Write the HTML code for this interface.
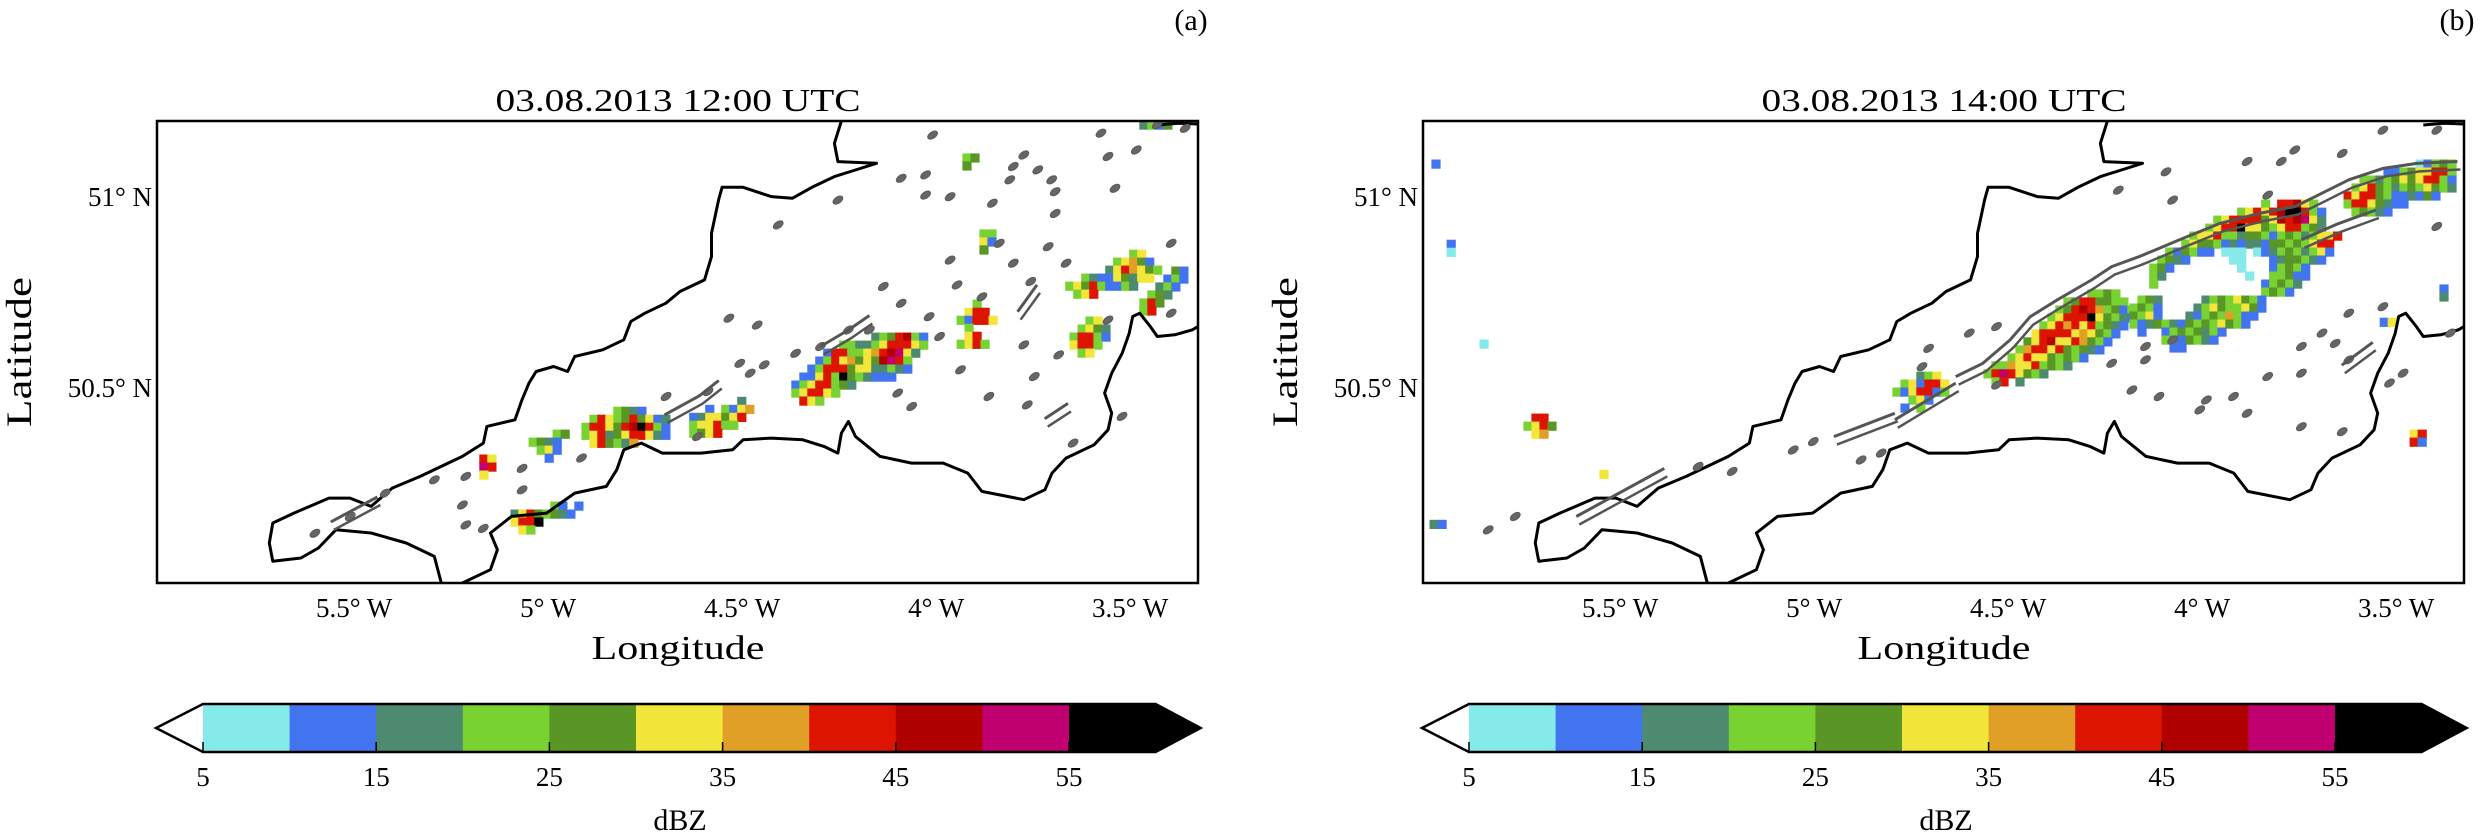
<!DOCTYPE html>
<html><head><meta charset="utf-8"><title>Radar reflectivity maps</title>
<style>
html,body{margin:0;padding:0;background:#fff;}
svg{display:block;font-family:"Liberation Serif",serif;}
</style></head>
<body>
<svg id="fig" width="2480" height="833" viewBox="0 0 2480 833" xmlns="http://www.w3.org/2000/svg">
<rect x="0" y="0" width="2480" height="833" fill="#fff"/>
</svg>
<script>
// ---------- data ----------
const lonTicks = [-5.5, -5.0, -4.5, -4.0, -3.5];
const lonTickLabels = ["5.5° W", "5° W", "4.5° W", "4° W", "3.5° W"];
const latTicks = [51.0, 50.5];
const latTickLabels = ["51° N", "50.5° N"];
const panelTitles = ["03.08.2013 12:00 UTC", "03.08.2013 14:00 UTC"];
const panelLetters = ["(a)", "(b)"];
const cbLevels = [5, 10, 15, 20, 25, 30, 35, 40, 45, 50, 55];
const cbColors = ["#86eaea", "#4274f0", "#4e8a6f", "#78d232", "#5a9626", "#f2e63a", "#e0a028", "#dc1400", "#b10000", "#c00070", "#000000"];
const cbTickValues = [5, 15, 25, 35, 45, 55];
const levelCodes = {c:0, b:1, t:2, g:3, G:4, y:5, o:6, r:7, R:8, m:9, k:10};

// radar clusters panel (a): anchor lon/lat + grid of dBZ class codes
const radarA = [
 {lon:-4.372, lat:50.644, rows:["..........tgGrRgb.","......ggttgyrrryg.","....brrggyorRmyt..","...bgryoGyGRmrg...","..bgrrrGyyttgtb...",".bbyrgkGgtbbb.....","bgyrrgGt..........","gyrryg............",".ryg.............."]},
 {lon:-4.913, lat:50.450, rows:["....gGtb....",".grygGrGybt.","grryGrRkrgb.","gyrtGyrrytb.",".yrGgto....."]},
 {lon:-4.635, lat:50.476, rows:["......t.","..b.gbyo","btyyGyr.","gyyrgg..","gGyr...."]},
 {lon:-5.049, lat:50.390, rows:["...gG","gGtb.",".gyb.","..b.."]},
 {lon:-5.176, lat:50.325, rows:["ry","mr","y."]},
 {lon:-5.096, lat:50.202, rows:[".....gb.b","tyrGgGtb.","yrrk.....",".yg......"]},
 {lon:-3.666, lat:50.861, rows:["........gy...","......gyoGb..",".....tyroyGg.","..gtbbyGtyy..","gyGrgbbgt....",".gyr........."]},
 {lon:-3.475, lat:50.817, rows:["....Gb","...bgb","..tgb.",".gGt..","grG...","gr...."]},
 {lon:-3.655, lat:50.686, rows:["..gy..",".gyGt.","grrgb.","yrrg..",".gy..."]},
 {lon:-3.946, lat:50.730, rows:["..g..",".yrr.","gbrry",".g...",".yr..","gyrg."]},
 {lon:-3.887, lat:50.914, rows:["gg","yb","G."]},
 {lon:-3.931, lat:51.113, rows:["gG","G."]},
 {lon:-3.475, lat:51.199, rows:["tgbG...."]}
];
// radar clusters panel (b)
const radarB = [
 {lon:-4.583, lat:50.757, rows:["..............ggGg..","...........gGrrGGgg.","..........gGrRrogGbg",".........gyrrrkyGgtb","........gyroryrgGtb.",".......yrrrryoyGgb..","......GyrRyyroGgb...",".....gorryrGgGtb....","....gyryyGgGgb......","..ggoyyrgGgt........",".grmryGgt...........","..gr.t.............."]},
 {lon:-4.135, lat:50.992, rows:["..............g.rrRyg.....","...........gyryrRkkrgb....","........gyrrrrGyRrRmyt....",".......gyrrkyyGgyrrgGt....",".....gyyrggtGGgbgGgtgyyr..","....gyGGgbtbttbGGgGgyrr...","..gbGgbb.ccc.cbtgGgtgyb...",".gGtb.....cc...btGGgtb....","gGb........c...bgGgb......","gt..........c..ggGbb......","g.............bgGgt.......","..............gGgb........"]},
 {lon:-4.186, lat:50.741, rows:[".gGt.....tgGgyGgb...","gGgb....tgyGggyGb...","Ggyb...tbgGgogbb....","gbtGgtbGgGgyGgb.....",".b..bgGgGtgb........","....gtbGgtb.........",".....bb............."]},
 {lon:-3.655, lat:51.097, rows:["..........cbgGg","......bbgGyyrrg","...ggtgGyGyrrgb","..gyrGgtgGgyGgt",".ryrrGgbbtbGb..",".grryGtbb......","..gGgtb........"]},
 {lon:-4.797, lat:50.542, rows:["...tgy..",".gybrry.","gbyrrbg.","..gyb...",".b.g...."]},
 {lon:-5.748, lat:50.432, rows:[".rr.","gyrG",".yo."]},
 {lon:-5.985, lat:51.097, rows:["b"]},
 {lon:-5.946, lat:50.887, rows:["b","c"]},
 {lon:-5.861, lat:50.626, rows:["c"]},
 {lon:-5.990, lat:50.154, rows:["tb"]},
 {lon:-5.552, lat:50.285, rows:["y"]},
 {lon:-3.541, lat:50.683, rows:["by"]},
 {lon:-3.387, lat:50.770, rows:["b","t"]},
 {lon:-3.464, lat:50.390, rows:["yr","rb"]}
];
// model contour blobs (lon, lat)
const contourDotsA = [[-4.009,51.162],[-3.774,51.110],[-3.575,51.167],[-3.557,51.106],[-3.484,51.123],[-4.027,51.058],[-4.090,51.049],[-3.801,51.080],[-3.738,51.071],[-3.810,51.045],[-3.702,51.045],[-4.027,51.005],[-3.964,51.001],[-3.855,50.984],[-3.693,51.014],[-3.539,51.023],[-3.693,50.957],[-3.837,50.879],[-3.711,50.870],[-3.394,50.879],[-3.964,50.835],[-3.801,50.827],[-3.665,50.827],[-3.756,50.779],[-3.946,50.770],[-4.136,50.766],[-4.090,50.722],[-3.882,50.739],[-4.018,50.687],[-4.226,50.652],[-4.172,50.652],[-4.298,50.609],[-4.362,50.591],[-4.443,50.561],[-4.506,50.565],[-4.479,50.539],[-4.588,50.491],[-4.696,50.478],[-4.615,50.373],[-4.914,50.317],[-5.067,50.290],[-5.212,50.269],[-5.293,50.260],[-5.420,50.225],[-5.510,50.164],[-5.601,50.120],[-5.067,50.234],[-5.221,50.194],[-5.212,50.142],[-5.167,50.133],[-3.774,50.613],[-3.684,50.587],[-3.864,50.478],[-3.747,50.530],[-3.765,50.456],[-3.647,50.356],[-3.521,50.426],[-4.099,50.487],[-3.937,50.548],[-3.991,50.635],[-3.394,50.696],[-3.557,50.678],[-4.063,50.452],[-4.534,50.683],[-4.461,50.665],[-4.407,50.927],[-4.253,50.992],[-3.430,51.189],[-3.358,51.180]];
const contourLinesA = [
 [[-4.298,50.609],[-4.226,50.652],[-4.172,50.690]],
 [[-3.790,50.700],[-3.740,50.770]],
 [[-3.720,50.420],[-3.660,50.460]],
 [[-4.700,50.430],[-4.610,50.480],[-4.560,50.520]],
 [[-5.560,50.150],[-5.440,50.215]]
];
const contourDotsB = [[-3.639,51.114],[-3.534,51.175],[-3.395,51.175],[-3.796,51.093],[-3.761,51.123],[-3.884,51.093],[-4.093,51.066],[-4.216,51.018],[-4.076,50.992],[-3.831,51.005],[-3.395,50.923],[-3.622,50.696],[-3.534,50.713],[-3.691,50.644],[-3.744,50.609],[-3.657,50.617],[-3.622,50.574],[-3.831,50.530],[-3.744,50.539],[-3.989,50.469],[-3.919,50.478],[-4.006,50.443],[-3.884,50.434],[-4.181,50.495],[-4.111,50.478],[-4.146,50.574],[-4.233,50.565],[-4.076,50.626],[-4.146,50.609],[-4.530,50.661],[-4.600,50.644],[-4.705,50.604],[-4.722,50.556],[-4.530,50.508],[-5.054,50.338],[-5.002,50.360],[-5.211,50.282],[-5.299,50.295],[-5.840,50.129],[-5.770,50.164],[-4.827,50.330],[-4.879,50.312],[-3.744,50.399],[-3.639,50.386],[-3.517,50.513],[-3.482,50.539],[-3.360,50.644]];
const contourLinesB = [
 [[-4.635,50.530],[-4.565,50.565],[-4.495,50.626],[-4.443,50.687],[-4.373,50.731],[-4.285,50.783],[-4.233,50.818],[-4.163,50.844],[-4.058,50.888],[-3.954,50.931],[-3.849,50.958],[-3.761,50.975],[-3.709,51.001],[-3.622,51.045],[-3.534,51.075],[-3.447,51.088],[-3.342,51.093]],
 [[-4.792,50.417],[-4.635,50.513]],
 [[-4.949,50.373],[-4.792,50.434]],
 [[-5.613,50.164],[-5.386,50.290]],
 [[-3.744,50.888],[-3.650,50.930],[-3.552,50.966]],
 [[-3.640,50.560],[-3.560,50.620]]
];
// basemap coastline (frame-relative reference units)
const coastNorth = [[1000,63],[990,130],[995,185],[1050,190],[1020,210],[990,230],[960,260],[930,295],[900,290],[860,262],[830,262],[825,300],[815,400],[815,470],[805,540],[770,575],[750,610],[720,640],[700,665],[690,720],[660,750],[620,770],[610,815],[590,800],[565,815],[555,850],[545,900],[535,960],[495,980],[490,1030],[460,1070],[430,1100],[400,1130],[360,1165],[330,1220],[300,1195],[270,1195],[220,1240],[190,1270],[185,1330],[190,1385],[230,1375],[255,1345],[280,1290],[330,1300],[380,1330],[420,1370],[430,1450]];
const coastSouth = [[460,1450],[500,1410],[510,1350],[500,1300],[530,1250],[580,1240],[620,1180],[665,1160],[680,1110],[690,1050],[715,1030],[745,1060],[800,1060],[845,1050],[860,1020],[900,1015],[945,1020],[975,1040],[995,1060],[1000,1000],[1010,965],[1020,1010],[1055,1070],[1100,1090],[1145,1090],[1180,1120],[1200,1175],[1260,1200],[1290,1170],[1300,1120],[1320,1075],[1360,1035],[1380,990],[1385,940],[1375,880],[1385,820],[1400,760],[1410,700],[1415,650],[1425,640],[1440,680],[1450,710],[1475,705],[1500,690],[1508,680]];
const coastTopRight = [[1450,75],[1480,70],[1508,72]];

// ---------- drawing ----------
const NS = "http://www.w3.org/2000/svg";
const svg = document.getElementById("fig");
const LON0 = -6.008, LON1 = -3.325, LAT0 = 49.99, LAT1 = 51.199;
const FW = 1041, FT = 121, FB = 583;
const DLON = 0.0206, DLAT = 0.0209;
function mk(tag, attrs, parent) { const e = document.createElementNS(NS, tag); for (const k in attrs) e.setAttribute(k, attrs[k]); (parent || svg).appendChild(e); return e; }
function txt(s, attrs, parent) { const e = mk("text", attrs, parent); e.textContent = s; return e; }

function drawPanel(p, fx0, radar, dots, lines) {
  const xs = lon => fx0 + (lon - LON0) / (LON1 - LON0) * FW;
  const ys = lat => FT + (LAT1 - lat) / (LAT1 - LAT0) * (FB - FT);
  const bx = X => fx0 + (X - 25) / 1483 * FW;
  const by = Y => FT + (Y - 63) / 1387 * (FB - FT);
  const g = mk("g", {});
  
  
  const clipId = "clip" + p;
  const cp = mk("clipPath", {id: clipId}, g);
  mk("rect", {x: fx0, y: FT, width: FW, height: FB - FT}, cp);
  const inner = mk("g", {"clip-path": "url(#" + clipId + ")"}, g);
  // radar cells
  radar.forEach((cl) => {
    cl.rows.forEach((row, r) => {
      for (let c = 0; c < row.length; c++) {
        const ch = row[c];
        if (!(ch in levelCodes)) continue;
        const x0 = xs(cl.lon + c * DLON), y0 = ys(cl.lat - r * DLAT);
        const x1 = xs(cl.lon + (c + 1) * DLON), y1 = ys(cl.lat - (r + 1) * DLAT);
        const cell = mk("rect", {x: (x0 - 0.5).toFixed(1), y: (y0 - 0.5).toFixed(1), width: (x1 - x0 + 1.2).toFixed(1), height: (y1 - y0 + 1.2).toFixed(1), fill: cbColors[levelCodes[ch]]}, inner);
        
        
      }
    });
  });
  // coastline
  const pathOf = pts => pts.map((q, i) => (i ? "L" : "M") + bx(q[0]).toFixed(1) + " " + by(q[1]).toFixed(1)).join(" ");
  [coastNorth, coastSouth, coastTopRight].forEach((pts, i) => {
    const c = mk("path", {d: pathOf(pts), fill: "none", stroke: "#000", "stroke-width": 3, "stroke-linejoin": "round"}, inner);
    
    
  });
  // contours
  dots.forEach(d => {
    const cx = xs(d[0]).toFixed(1), cy = ys(d[1]).toFixed(1);
    const e = mk("ellipse", {cx: cx, cy: cy, rx: 5.5, ry: 3.2, fill: "#666", stroke: "#5a5a5a", "stroke-width": 1, transform: "rotate(-35 " + cx + " " + cy + ")"}, inner);
    
    
  });
  lines.forEach(l => {
    const d = l.map((q, i) => (i ? "L" : "M") + xs(q[0]).toFixed(1) + " " + ys(q[1]).toFixed(1)).join(" ");
    const e = mk("path", {d: d, fill: "none", stroke: "#555", "stroke-width": 3, "stroke-linejoin": "round"}, inner);
    
    
    const e2 = mk("path", {d: d, fill: "none", stroke: "#555", "stroke-width": 2.5, "stroke-linejoin": "round", transform: "translate(3 8)"}, inner);
    
    
  });
  // frame
  const fr = mk("rect", {x: fx0, y: FT, width: FW, height: FB - FT, fill: "none", stroke: "#000", "stroke-width": 2.5}, g);
  
  
  // ticks
  lonTicks.forEach((v, i) => {
    const t = txt(lonTickLabels[i], {x: xs(v).toFixed(1), y: 617, "font-size": 27, "text-anchor": "middle"}, g);
    
    
  });
  latTicks.forEach((v, i) => {
    const t = txt(latTickLabels[i], {x: fx0 - 5, y: (ys(v) + 9).toFixed(1), "font-size": 27, "text-anchor": "end"}, g);
    
    
  });
  const xt = txt("Longitude", {x: fx0 + 521, y: 659, "font-size": 34, "text-anchor": "middle", textLength: 173, lengthAdjust: "spacingAndGlyphs"}, g);
  
  
  const yt = txt("Latitude", {x: 0, y: 0, "font-size": 36, "text-anchor": "middle", transform: "translate(" + (fx0 - 126) + " 352) rotate(-90)", textLength: 150, lengthAdjust: "spacingAndGlyphs"}, g);
  
  
  const tt = txt(panelTitles[p], {x: fx0 + 521, y: 111, "font-size": 32, "text-anchor": "middle", textLength: 365, lengthAdjust: "spacingAndGlyphs"}, g);
  
  
  const lt = txt(panelLetters[p], {x: fx0 + 1034, y: 30, "font-size": 30, "text-anchor": "middle"}, g);
  
  

  // colorbar
  const cbL = fx0 + 46, seg = 86.6, cbT = 704, cbB = 752, cbM = 728;
  const cx = v => cbL + (v - cbLevels[0]) / 5 * seg;
  const cb = mk("g", {}, g);
  
  
  cbLevels.forEach((lv, i) => {
    const r = mk("rect", {x: cx(lv).toFixed(1), y: cbT, width: seg + 0.5, height: cbB - cbT, fill: cbColors[i]}, cb);
    
    
  });
  const endX = cx(cbLevels[cbLevels.length - 1] + 5);
  const ar = mk("polygon", {points: `${endX},${cbT} ${endX + 45},${cbM} ${endX},${cbB}`, fill: "#000"}, cb);
  
  
  const outline = mk("path", {d: `M${cbL} ${cbT} L${endX} ${cbT} L${endX + 45} ${cbM} L${endX} ${cbB} L${cbL} ${cbB} L${cbL - 47} ${cbM} Z`, fill: "none", stroke: "#000", "stroke-width": 2.5}, cb);
  
  
  cbTickValues.forEach(v => {
    const tk = mk("line", {x1: cx(v), x2: cx(v), y1: cbB, y2: cbB - 10, stroke: "#000", "stroke-width": 1.5}, cb);
    
    
    const tl = txt(String(v), {x: cx(v), y: 786, "font-size": 27, "text-anchor": "middle"}, cb);
    
    
  });
  const ut = txt("dBZ", {x: fx0 + 523, y: 830, "font-size": 30, "text-anchor": "middle"}, cb);
  
  
}
drawPanel(0, 157, radarA, contourDotsA, contourLinesA);
drawPanel(1, 1423, radarB, contourDotsB, contourLinesB);
</script>
</body></html>
